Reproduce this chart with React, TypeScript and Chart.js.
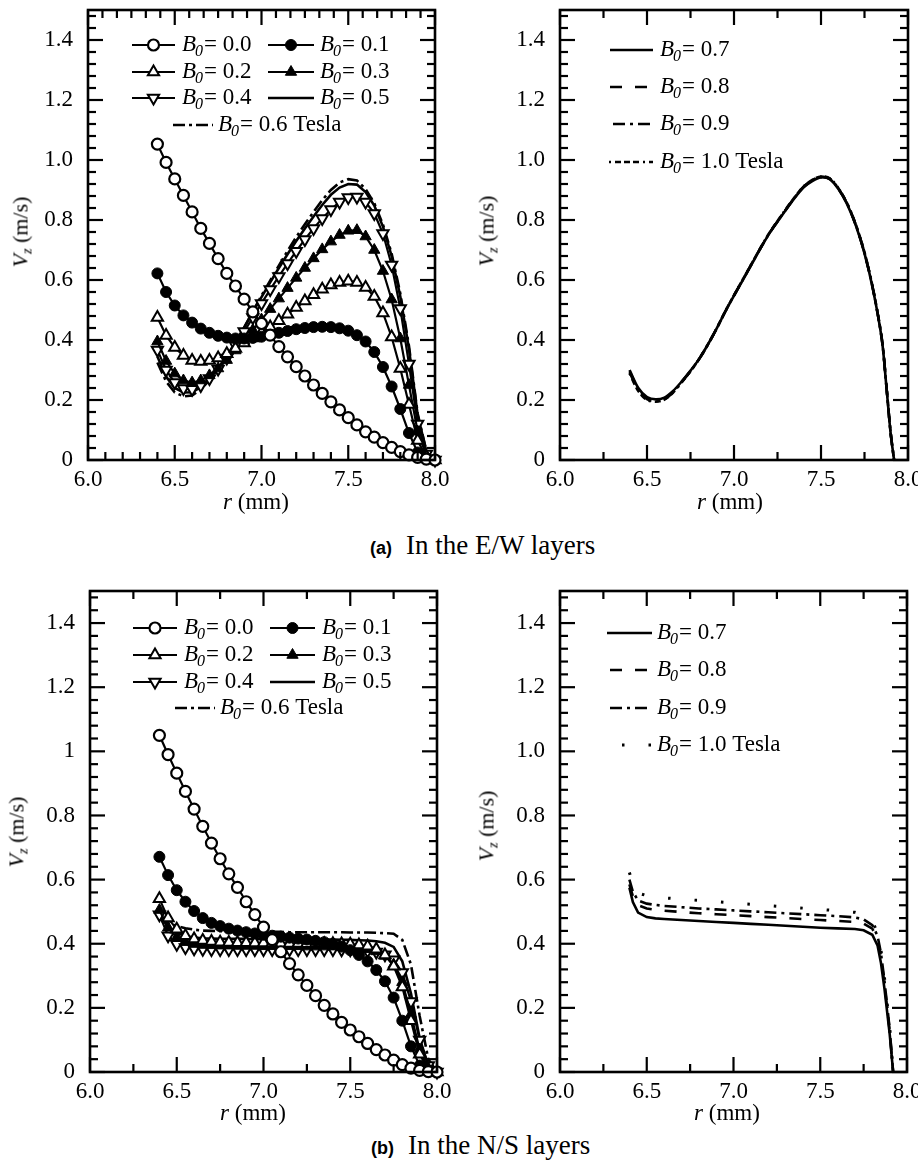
import React, { useEffect, useRef } from 'react';
import { Chart, registerables } from 'chart.js';
Chart.register(...registerables);

const SERIF = '"Liberation Serif", "Times New Roman", serif';
Chart.defaults.font.family = SERIF;
Chart.defaults.color = '#000';

// ---------- data ----------
const xTickValues = [6.0, 6.5, 7.0, 7.5, 8.0];
const yTickValues = [0, 0.2, 0.4, 0.6, 0.8, 1.0, 1.2, 1.4];
const yLabelsA = ['0', '0.2', '0.4', '0.6', '0.8', '1.0', '1.2', '1.4'];
const yLabelsB = ['0', '0.2', '0.4', '0.6', '0.8', '1', '1.2', '1.4'];

const xLeft = [6.40, 6.45, 6.50, 6.55, 6.60, 6.65, 6.70, 6.75, 6.80, 6.85, 6.90, 6.95, 7.00, 7.05, 7.10, 7.15, 7.20, 7.25, 7.30, 7.35, 7.40, 7.45, 7.50, 7.55, 7.60, 7.65, 7.70, 7.75, 7.80, 7.85, 7.90, 7.95, 8.00];

// (a) E/W layers, B0 = 0.0 ... 0.6
const ew00 = [1.053, 0.992, 0.937, 0.882, 0.827, 0.772, 0.722, 0.671, 0.622, 0.580, 0.536, 0.494, 0.455, 0.416, 0.378, 0.344, 0.311, 0.280, 0.250, 0.222, 0.194, 0.167, 0.141, 0.117, 0.094, 0.076, 0.058, 0.042, 0.028, 0.017, 0.009, 0.003, 0.000];
const ew01 = [0.622, 0.560, 0.515, 0.482, 0.458, 0.438, 0.424, 0.414, 0.408, 0.405, 0.405, 0.407, 0.411, 0.417, 0.424, 0.430, 0.436, 0.440, 0.443, 0.444, 0.443, 0.439, 0.431, 0.416, 0.395, 0.360, 0.310, 0.245, 0.170, 0.090, 0.025, 0.003, 0.000];
const ew02 = [0.475, 0.415, 0.375, 0.348, 0.332, 0.328, 0.332, 0.340, 0.354, 0.372, 0.390, 0.407, 0.424, 0.443, 0.464, 0.486, 0.508, 0.530, 0.551, 0.569, 0.583, 0.592, 0.596, 0.592, 0.575, 0.545, 0.490, 0.410, 0.305, 0.185, 0.065, 0.010, 0.000];
const ew03 = [0.395, 0.330, 0.288, 0.265, 0.258, 0.265, 0.282, 0.305, 0.333, 0.365, 0.398, 0.433, 0.468, 0.503, 0.538, 0.573, 0.607, 0.640, 0.672, 0.702, 0.728, 0.750, 0.764, 0.766, 0.745, 0.700, 0.630, 0.535, 0.405, 0.250, 0.095, 0.015, 0.000];
const ew04 = [0.367, 0.300, 0.258, 0.238, 0.236, 0.248, 0.272, 0.303, 0.340, 0.382, 0.428, 0.475, 0.522, 0.568, 0.612, 0.655, 0.696, 0.735, 0.772, 0.805, 0.835, 0.860, 0.875, 0.877, 0.860, 0.822, 0.755, 0.650, 0.505, 0.320, 0.120, 0.020, 0.000];
const ew05 = [0.345, 0.278, 0.240, 0.225, 0.226, 0.243, 0.272, 0.307, 0.347, 0.393, 0.442, 0.493, 0.543, 0.592, 0.640, 0.686, 0.730, 0.772, 0.812, 0.850, 0.884, 0.908, 0.920, 0.918, 0.893, 0.848, 0.778, 0.680, 0.545, 0.370, 0.150, 0.030, 0.000];
const ew06 = [0.325, 0.262, 0.225, 0.212, 0.215, 0.235, 0.266, 0.302, 0.343, 0.390, 0.441, 0.495, 0.548, 0.598, 0.648, 0.697, 0.743, 0.786, 0.827, 0.866, 0.900, 0.925, 0.936, 0.932, 0.903, 0.856, 0.785, 0.688, 0.555, 0.380, 0.155, 0.030, 0.000];

// (a) E/W layers, B0 = 0.7 ... 1.0
const xRightEW = [6.40, 6.45, 6.50, 6.55, 6.60, 6.65, 6.70, 6.75, 6.80, 6.85, 6.90, 6.95, 7.00, 7.05, 7.10, 7.15, 7.20, 7.25, 7.30, 7.35, 7.40, 7.45, 7.50, 7.55, 7.60, 7.65, 7.70, 7.75, 7.80, 7.85, 7.875, 7.90, 7.92];
const ew07 = [0.300, 0.240, 0.210, 0.202, 0.208, 0.230, 0.262, 0.298, 0.337, 0.385, 0.438, 0.495, 0.548, 0.599, 0.651, 0.703, 0.752, 0.794, 0.835, 0.874, 0.909, 0.930, 0.942, 0.936, 0.903, 0.853, 0.782, 0.689, 0.565, 0.400, 0.250, 0.090, 0.000];
const ew08 = [0.296, 0.236, 0.206, 0.198, 0.205, 0.228, 0.261, 0.297, 0.337, 0.385, 0.438, 0.495, 0.548, 0.600, 0.652, 0.704, 0.753, 0.795, 0.836, 0.875, 0.910, 0.932, 0.943, 0.937, 0.904, 0.854, 0.783, 0.690, 0.566, 0.401, 0.251, 0.091, 0.000];
const ew09 = [0.292, 0.233, 0.203, 0.196, 0.203, 0.226, 0.260, 0.296, 0.337, 0.385, 0.438, 0.495, 0.549, 0.600, 0.652, 0.704, 0.753, 0.796, 0.837, 0.876, 0.911, 0.933, 0.944, 0.938, 0.905, 0.855, 0.784, 0.691, 0.567, 0.402, 0.252, 0.092, 0.000];
const ew10 = [0.288, 0.230, 0.200, 0.194, 0.201, 0.225, 0.259, 0.296, 0.337, 0.385, 0.438, 0.496, 0.549, 0.601, 0.653, 0.705, 0.754, 0.797, 0.838, 0.877, 0.912, 0.934, 0.945, 0.939, 0.906, 0.856, 0.785, 0.692, 0.568, 0.403, 0.253, 0.093, 0.000];

// (b) N/S layers, B0 = 0.0 ... 0.6
const ns00 = [1.050, 0.990, 0.932, 0.875, 0.820, 0.766, 0.714, 0.665, 0.618, 0.576, 0.531, 0.491, 0.452, 0.413, 0.375, 0.338, 0.303, 0.270, 0.238, 0.208, 0.181, 0.155, 0.131, 0.110, 0.089, 0.070, 0.053, 0.037, 0.023, 0.012, 0.005, 0.001, 0.000];
const ns01 = [0.671, 0.614, 0.567, 0.531, 0.502, 0.480, 0.465, 0.455, 0.447, 0.441, 0.436, 0.432, 0.428, 0.425, 0.422, 0.419, 0.416, 0.413, 0.409, 0.405, 0.399, 0.391, 0.380, 0.365, 0.345, 0.318, 0.283, 0.232, 0.160, 0.080, 0.020, 0.003, 0.000];
const ns02 = [0.540, 0.480, 0.445, 0.425, 0.415, 0.410, 0.407, 0.405, 0.404, 0.403, 0.403, 0.402, 0.402, 0.402, 0.401, 0.401, 0.401, 0.400, 0.400, 0.400, 0.400, 0.399, 0.398, 0.396, 0.392, 0.383, 0.365, 0.330, 0.265, 0.160, 0.055, 0.008, 0.000];
const ns03 = [0.505, 0.450, 0.420, 0.405, 0.399, 0.396, 0.395, 0.394, 0.394, 0.393, 0.393, 0.393, 0.392, 0.392, 0.392, 0.392, 0.392, 0.391, 0.391, 0.391, 0.391, 0.390, 0.389, 0.387, 0.383, 0.376, 0.362, 0.335, 0.280, 0.180, 0.070, 0.010, 0.000];
const ns04 = [0.490, 0.425, 0.398, 0.388, 0.384, 0.383, 0.382, 0.382, 0.382, 0.382, 0.382, 0.382, 0.382, 0.382, 0.382, 0.382, 0.382, 0.382, 0.382, 0.382, 0.382, 0.381, 0.381, 0.380, 0.378, 0.374, 0.366, 0.350, 0.310, 0.220, 0.100, 0.020, 0.000];
const ns05 = [0.490, 0.452, 0.433, 0.424, 0.419, 0.417, 0.416, 0.415, 0.415, 0.415, 0.415, 0.414, 0.414, 0.414, 0.414, 0.414, 0.414, 0.413, 0.413, 0.413, 0.413, 0.412, 0.412, 0.411, 0.410, 0.408, 0.403, 0.390, 0.345, 0.245, 0.105, 0.020, 0.000];
const ns06 = [0.480, 0.464, 0.455, 0.448, 0.444, 0.441, 0.440, 0.439, 0.438, 0.438, 0.437, 0.437, 0.437, 0.437, 0.437, 0.436, 0.436, 0.436, 0.436, 0.436, 0.436, 0.436, 0.435, 0.435, 0.435, 0.434, 0.433, 0.431, 0.412, 0.335, 0.175, 0.040, 0.000];

// (b) N/S layers, B0 = 0.7 ... 1.0
const xRightNS = [6.40, 6.42, 6.45, 6.50, 6.55, 6.60, 6.70, 6.80, 6.90, 7.00, 7.10, 7.20, 7.30, 7.40, 7.50, 7.60, 7.70, 7.75, 7.80, 7.83, 7.85, 7.87, 7.90, 7.92];
const ns07 = [0.575, 0.530, 0.497, 0.483, 0.479, 0.477, 0.474, 0.471, 0.468, 0.465, 0.462, 0.459, 0.456, 0.453, 0.450, 0.448, 0.446, 0.442, 0.428, 0.395, 0.340, 0.260, 0.120, 0.000];
const ns08 = [0.585, 0.548, 0.520, 0.510, 0.506, 0.503, 0.499, 0.495, 0.492, 0.489, 0.486, 0.483, 0.480, 0.477, 0.474, 0.471, 0.468, 0.463, 0.447, 0.415, 0.360, 0.275, 0.130, 0.000];
const ns09 = [0.600, 0.562, 0.535, 0.525, 0.521, 0.518, 0.514, 0.510, 0.507, 0.504, 0.501, 0.498, 0.495, 0.492, 0.489, 0.486, 0.482, 0.476, 0.458, 0.425, 0.370, 0.285, 0.135, 0.000];
const ns10 = [0.622, 0.585, 0.558, 0.550, 0.546, 0.543, 0.539, 0.535, 0.531, 0.527, 0.523, 0.519, 0.515, 0.511, 0.507, 0.503, 0.498, 0.490, 0.470, 0.435, 0.380, 0.295, 0.140, 0.000];

// ---------- styles ----------
const openCircle = { pointStyle: 'circle', pointRadius: 5.5, pointBackgroundColor: '#fff', pointBorderColor: '#000', pointBorderWidth: 2.2, borderColor: '#000', borderWidth: 2.2 };
const fillCircle = { pointStyle: 'circle', pointRadius: 5.5, pointBackgroundColor: '#000', pointBorderColor: '#000', pointBorderWidth: 1, borderColor: '#000', borderWidth: 2.2 };
const openTriUp = { pointStyle: 'triangle', pointRadius: 6.5, pointBackgroundColor: '#fff', pointBorderColor: '#000', pointBorderWidth: 2, borderColor: '#000', borderWidth: 2.2 };
const fillTriUp = { pointStyle: 'triangle', pointRadius: 6.5, pointBackgroundColor: '#000', pointBorderColor: '#000', pointBorderWidth: 1, borderColor: '#000', borderWidth: 2.2 };
const openTriDown = { pointStyle: 'triangle', pointRotation: 180, pointRadius: 6.5, pointBackgroundColor: '#fff', pointBorderColor: '#000', pointBorderWidth: 2, borderColor: '#000', borderWidth: 2.2 };
const solidLine = { pointRadius: 0, borderColor: '#000', borderWidth: 2.6 };
const dashDot = { pointRadius: 0, borderColor: '#000', borderWidth: 2.6, borderDash: [12, 4, 3, 4] };
const dashed = { pointRadius: 0, borderColor: '#000', borderWidth: 2.6, borderDash: [12, 13] };
const dashDot2 = { pointRadius: 0, borderColor: '#000', borderWidth: 2.6, borderDash: [12, 5, 3, 5] };
const dashDotDot = { pointRadius: 0, borderColor: '#000', borderWidth: 2.6, borderDash: [2, 4, 6, 3, 6, 3, 6, 4] };
const sparseDots = { pointRadius: 0, borderColor: '#000', borderWidth: 3, borderDash: [2.5, 24] };

function ds(xs: number[], ys: number[], style: any) {
  return { data: xs.map((x, i) => ({ x, y: ys[i] })), clip: false, tension: 0, ...style };
}

type LegendItem = { ds: number; y: number; x1: number; x2: number; tx: number; text: string };

const legendLeftA: LegendItem[] = [
  { ds: 0, y: 45, x1: 132, x2: 175, tx: 182, text: '= 0.0' },
  { ds: 1, y: 45, x1: 268, x2: 314, tx: 320, text: '= 0.1' },
  { ds: 2, y: 72, x1: 132, x2: 175, tx: 182, text: '= 0.2' },
  { ds: 3, y: 72, x1: 268, x2: 314, tx: 320, text: '= 0.3' },
  { ds: 4, y: 98, x1: 132, x2: 175, tx: 182, text: '= 0.4' },
  { ds: 5, y: 98, x1: 268, x2: 314, tx: 320, text: '= 0.5' },
  { ds: 6, y: 125, x1: 173, x2: 213, tx: 218, text: '= 0.6 Tesla' },
];
const legendRightA: LegendItem[] = [
  { ds: 0, y: 50, x1: 610, x2: 653, tx: 660, text: '= 0.7' },
  { ds: 1, y: 87, x1: 610, x2: 653, tx: 660, text: '= 0.8' },
  { ds: 2, y: 124, x1: 613, x2: 653, tx: 660, text: '= 0.9' },
  { ds: 3, y: 162, x1: 609, x2: 653, tx: 660, text: '= 1.0 Tesla' },
];
const legendLeftB: LegendItem[] = [
  { ds: 0, y: 628, x1: 133, x2: 177, tx: 184, text: '= 0.0' },
  { ds: 1, y: 628, x1: 270, x2: 315, tx: 322, text: '= 0.1' },
  { ds: 2, y: 655, x1: 133, x2: 177, tx: 184, text: '= 0.2' },
  { ds: 3, y: 655, x1: 270, x2: 315, tx: 322, text: '= 0.3' },
  { ds: 4, y: 682, x1: 133, x2: 177, tx: 184, text: '= 0.4' },
  { ds: 5, y: 682, x1: 270, x2: 315, tx: 322, text: '= 0.5' },
  { ds: 6, y: 708, x1: 175, x2: 215, tx: 220, text: '= 0.6 Tesla' },
];
const legendRightB: LegendItem[] = [
  { ds: 0, y: 633, x1: 607, x2: 652, tx: 657, text: '= 0.7' },
  { ds: 1, y: 670, x1: 610, x2: 652, tx: 657, text: '= 0.8' },
  { ds: 2, y: 708, x1: 610, x2: 652, tx: 657, text: '= 0.9' },
  { ds: 3, y: 745, x1: 622, x2: 652, tx: 657, text: '= 1.0 Tesla' },
];

type PanelDef = {
  key: string;
  box: { left: number; top: number; width: number; height: number };
  area: { left: number; top: number; right: number; bottom: number };
  datasets: any[];
  yLabels: string[];
  xMinorBottom: number;
  xMinorTop: number;
  legend: LegendItem[];
};

const panels: PanelDef[] = [
  {
    key: 'ewL',
    box: { left: 0, top: 0, width: 455, height: 520 },
    area: { left: 88, top: 10, right: 435, bottom: 460 },
    datasets: [ds(xLeft, ew00, openCircle), ds(xLeft, ew01, fillCircle), ds(xLeft, ew02, openTriUp), ds(xLeft, ew03, fillTriUp), ds(xLeft, ew04, openTriDown), ds(xLeft, ew05, solidLine), ds(xLeft, ew06, dashDot)],
    yLabels: yLabelsA, xMinorBottom: 0.1, xMinorTop: 0.5 / 6, legend: legendLeftA,
  },
  {
    key: 'ewR',
    box: { left: 460, top: 0, width: 458, height: 520 },
    area: { left: 560, top: 10, right: 908, bottom: 460 },
    datasets: [ds(xRightEW, ew07, solidLine), ds(xRightEW, ew08, dashed), ds(xRightEW, ew09, dashDot2), ds(xRightEW, ew10, dashDotDot)].map(d => ({ ...d, tension: 0.3 })),
    yLabels: yLabelsA, xMinorBottom: 0.25, xMinorTop: 0.25, legend: legendRightA,
  },
  {
    key: 'nsL',
    box: { left: 0, top: 580, width: 455, height: 530 },
    area: { left: 90, top: 591, right: 437, bottom: 1072 },
    datasets: [ds(xLeft, ns00, openCircle), ds(xLeft, ns01, fillCircle), ds(xLeft, ns02, openTriUp), ds(xLeft, ns03, fillTriUp), ds(xLeft, ns04, openTriDown), ds(xLeft, ns05, solidLine), ds(xLeft, ns06, dashDot)],
    yLabels: yLabelsB, xMinorBottom: 0.25, xMinorTop: 0.25, legend: legendLeftB,
  },
  {
    key: 'nsR',
    box: { left: 460, top: 580, width: 458, height: 530 },
    area: { left: 560, top: 591, right: 907, bottom: 1072 },
    datasets: [ds(xRightNS, ns07, solidLine), ds(xRightNS, ns08, dashed), ds(xRightNS, ns09, dashDot2), ds(xRightNS, ns10, sparseDots)],
    yLabels: yLabelsA, xMinorBottom: 0.25, xMinorTop: 0.25, legend: legendRightB,
  },
];

// ---------- drawing helpers ----------
function drawMarker(ctx: CanvasRenderingContext2D, d: any, cx: number, cy: number) {
  const r = d.pointRadius;
  ctx.save();
  ctx.setLineDash([]);
  ctx.lineWidth = d.pointBorderWidth || 1;
  ctx.strokeStyle = '#000';
  ctx.fillStyle = d.pointBackgroundColor || '#000';
  ctx.beginPath();
  if (d.pointStyle === 'circle') {
    ctx.arc(cx, cy, r, 0, Math.PI * 2);
  } else {
    const s = d.pointRotation === 180 ? -1 : 1;
    ctx.moveTo(cx, cy - s * r);
    ctx.lineTo(cx + r * 0.866, cy + s * r * 0.5);
    ctx.lineTo(cx - r * 0.866, cy + s * r * 0.5);
    ctx.closePath();
  }
  ctx.fill();
  ctx.stroke();
  ctx.restore();
}

function drawLegendText(ctx: CanvasRenderingContext2D, x: number, y: number, text: string) {
  ctx.fillStyle = '#000';
  ctx.textBaseline = 'middle';
  ctx.textAlign = 'left';
  ctx.font = `italic 23px ${SERIF}`;
  ctx.fillText('B', x, y);
  let w = ctx.measureText('B').width;
  ctx.font = `italic 16px ${SERIF}`;
  ctx.fillText('0', x + w - 1, y + 7);
  w += ctx.measureText('0').width;
  ctx.font = `23px ${SERIF}`;
  ctx.fillText(text, x + w, y);
}

const decoPlugin = {
  id: 'panelDeco',
  afterDatasetsDraw(chart: any, _args: any, opts: any) {
    const def: PanelDef = opts.def;
    const { ctx } = chart;
    const { left, top, right, bottom } = chart.chartArea;
    const xs = chart.scales.x;
    const ys = chart.scales.y;
    ctx.save();
    ctx.strokeStyle = '#000';
    ctx.setLineDash([]);
    const line = (x1: number, y1: number, x2: number, y2: number) => {
      ctx.beginPath(); ctx.moveTo(x1, y1); ctx.lineTo(x2, y2); ctx.stroke();
    };
    const MAJ = 15, MIN = 8;
    ctx.lineWidth = 2.2;
    xTickValues.forEach(v => {
      const p = xs.getPixelForValue(v);
      line(p, bottom, p, bottom - MAJ);
      line(p, top, p, top + MAJ);
    });
    const minorX = (step: number, atBottom: boolean) => {
      for (let k = 1; 6 + k * step < 8 - 1e-6; k++) {
        const v = 6 + k * step;
        if (Math.abs(v * 2 - Math.round(v * 2)) < 1e-6) continue;
        const p = xs.getPixelForValue(v);
        if (atBottom) line(p, bottom, p, bottom - MIN);
        else line(p, top, p, top + MIN);
      }
    };
    minorX(def.xMinorBottom, true);
    minorX(def.xMinorTop, false);
    yTickValues.forEach(v => {
      const p = ys.getPixelForValue(v);
      line(left, p, left + MAJ, p);
      line(right, p, right - MAJ, p);
    });
    for (let k = 1; k * 0.04 < 1.5; k++) {
      if (k % 5 === 0) continue;
      const p = ys.getPixelForValue(k * 0.04);
      line(left, p, left + MIN, p);
      line(right, p, right - MIN, p);
    }
    ctx.lineWidth = 2.6;
    ctx.strokeRect(left, top, right - left, bottom - top);

    const ox = def.box.left, oy = def.box.top;
    def.legend.forEach(it => {
      const d = chart.data.datasets[it.ds];
      ctx.save();
      ctx.strokeStyle = '#000';
      ctx.lineWidth = d.borderWidth;
      ctx.setLineDash(d.borderDash || []);
      line(it.x1 - ox, it.y - oy, it.x2 - ox, it.y - oy);
      ctx.restore();
      if (d.pointRadius > 0) drawMarker(ctx, d, (it.x1 + it.x2) / 2 - ox, it.y - oy);
      drawLegendText(ctx, it.tx - ox, it.y - oy, it.text);
    });
    ctx.restore();
  },
};

const tickFont = { family: SERIF, size: 23, style: 'normal', weight: 'normal' };

function Panel({ def }: { def: PanelDef }) {
  const ref = useRef<HTMLCanvasElement | null>(null);
  useEffect(() => {
    if (!ref.current) return;
    const { box, area } = def;
    const chart = new Chart(ref.current, {
      type: 'line',
      data: { datasets: def.datasets },
      options: {
        animation: false,
        responsive: false,
        maintainAspectRatio: false,
        font: { family: SERIF },
        layout: { padding: { left: 0, top: area.top - box.top, right: box.left + box.width - area.right, bottom: 0 } },
        plugins: { legend: { display: false }, tooltip: { enabled: false }, panelDeco: { def } } as any,
        scales: {
          x: {
            type: 'linear', min: 6, max: 8,
            afterBuildTicks: (s: any) => { s.ticks = xTickValues.map(v => ({ value: v })); },
            afterFit: (s: any) => { s.height = box.top + box.height - area.bottom; s.paddingLeft = 0; s.paddingRight = 0; },
            grid: { display: false, drawTicks: false },
            border: { display: false },
            ticks: { color: '#000', font: tickFont, padding: 6, maxRotation: 0, autoSkip: false, callback: (v: any) => Number(v).toFixed(1) },
          },
          y: {
            type: 'linear', min: 0, max: 1.5,
            afterBuildTicks: (s: any) => { s.ticks = yTickValues.map(v => ({ value: v })); },
            afterFit: (s: any) => { s.width = area.left - box.left; s.paddingTop = 0; s.paddingBottom = 0; },
            grid: { display: false, drawTicks: false },
            border: { display: false },
            ticks: { color: '#000', font: tickFont, padding: 15, autoSkip: false, callback: (_v: any, i: number) => def.yLabels[i] },
          },
        },
      } as any,
      plugins: [decoPlugin],
    });
    return () => chart.destroy();
  }, [def]);
  const { box } = def;
  return (
    <canvas
      ref={ref}
      width={box.width}
      height={box.height}
      style={{ position: 'absolute', left: box.left, top: box.top, width: box.width, height: box.height }}
    />
  );
}

const yTitles = [
  { x: 24, y: 232 },
  { x: 490, y: 231 },
  { x: 20, y: 832 },
  { x: 490, y: 826 },
];
const xTitles = [
  { x: 256, y: 502 },
  { x: 730, y: 502 },
  { x: 253, y: 1113 },
  { x: 727, y: 1113 },
];
const captions = [
  { tag: '(a)', text: 'In the E/W layers', x: 370, y: 545 },
  { tag: '(b)', text: 'In the N/S layers', x: 371, y: 1145 },
];

export default function App() {
  return (
    <div style={{ position: 'absolute', left: 0, top: 0, width: 918, height: 1160, background: '#fff', overflow: 'hidden', fontFamily: SERIF, color: '#000' }}>
      {panels.map(p => <Panel key={p.key} def={p} />)}
      {yTitles.map((t, i) => (
        <div key={'yt' + i} style={{ position: 'absolute', left: t.x, top: t.y, transform: 'translate(-50%, -50%) rotate(-90deg)', whiteSpace: 'nowrap', fontSize: 22, lineHeight: '26px' }}>
          <i>V</i><sub style={{ fontSize: 14, fontStyle: 'italic', verticalAlign: '-4px' }}>z</sub> (m/s)
        </div>
      ))}
      {xTitles.map((t, i) => (
        <div key={'xt' + i} style={{ position: 'absolute', left: t.x, top: t.y, transform: 'translate(-50%, -50%)', whiteSpace: 'nowrap', fontSize: 23, lineHeight: '26px' }}>
          <i>r</i> (mm)
        </div>
      ))}
      {captions.map((c, i) => (
        <div key={'cap' + i} style={{ position: 'absolute', left: c.x, top: c.y, transform: 'translateY(-50%)', whiteSpace: 'nowrap', display: 'flex', alignItems: 'baseline' }}>
          <span style={{ fontFamily: '"Liberation Sans", Arial, sans-serif', fontWeight: 'bold', fontSize: 18 }}>{c.tag}</span>
          <span style={{ fontSize: 27, marginLeft: 14 }}>{c.text}</span>
        </div>
      ))}
    </div>
  );
}
